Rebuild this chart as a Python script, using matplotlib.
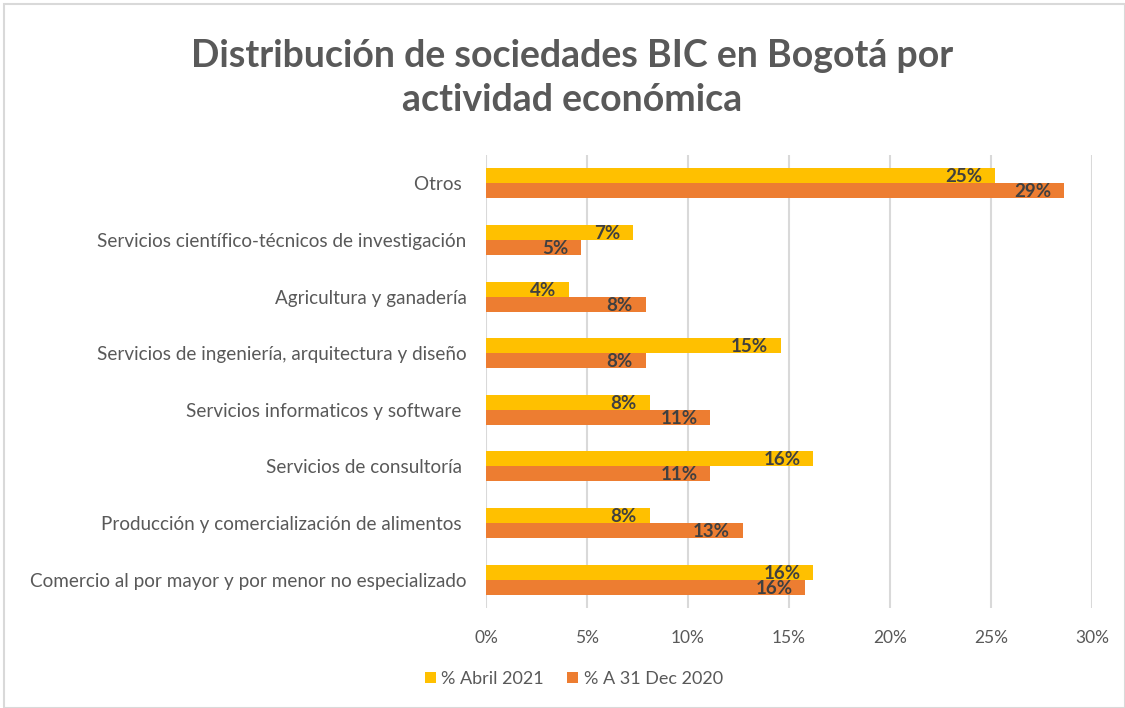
import matplotlib
matplotlib.use("Agg")
import matplotlib.pyplot as plt
from matplotlib.patches import Rectangle
import numpy as np

plt.rcParams['font.family'] = ['Lato', 'DejaVu Sans']

categories = [
    "Comercio al por mayor y por menor no especializado",
    "Producción y comercialización de alimentos ",
    "Servicios de consultoría ",
    "Servicios informaticos y software ",
    "Servicios de ingeniería, arquitectura y diseño",
    "Agricultura y ganadería",
    "Servicios científico-técnicos de investigación",
    "Otros ",
]
abril_2021 = [16.2, 8.1, 16.2, 8.1, 14.6, 4.1, 7.3, 25.2]
dec_2020 = [15.8, 12.7, 11.1, 11.1, 7.9, 7.9, 4.7, 28.6]
series_names = ["% Abril 2021", "% A 31 Dec 2020"]
xticks = [0, 5, 10, 15, 20, 25, 30]

c_yellow = "#FFC000"
c_orange = "#ED7D31"
text_gray = "#595959"
label_gray = "#404040"

W, H = 1125, 708
fig = plt.figure(figsize=(W / 100, H / 100), dpi=100)
fig.patch.set_facecolor("white")
fig.patches.append(Rectangle((4 / W, 0), 1 - 4 / W, 1 - 4 / H, transform=fig.transFigure,
                             fill=False, edgecolor="#d9d9d9", linewidth=1.5))

ax = fig.add_axes([486 / W, 1 - 608 / H, (1092 - 486) / W, (608 - 155) / H])

y = np.arange(len(categories))
bh = 0.265
b1 = ax.barh(y + bh / 2, abril_2021, height=bh, color=c_yellow, label=series_names[0], zorder=3)
b2 = ax.barh(y - bh / 2, dec_2020, height=bh, color=c_orange, label=series_names[1], zorder=3)

for bars, vals in ((b1, abril_2021), (b2, dec_2020)):
    for rect, v in zip(bars, vals):
        ax.annotate(f"{int(v + 0.5)}%", xy=(v, rect.get_y() + rect.get_height() / 2),
                    xytext=(-9.2, -4.7), textcoords="offset points", ha="right", va="baseline",
                    fontsize=13.5, fontweight="bold", color=label_gray, zorder=4)

ax.set_xlim(0, 30)
ax.set_ylim(-0.5, len(categories) - 0.5)
ax.set_xticks(xticks)
ax.set_xticklabels([f"{t}%" for t in xticks])
ax.set_yticks(y)
ax.set_yticklabels(categories)
ax.tick_params(axis="both", length=0, colors=text_gray)
ax.tick_params(axis="x", pad=16, labelsize=12.5)
ax.tick_params(axis="y", pad=14, labelsize=13.6)
ax.grid(axis="x", color="#d9d9d9", linewidth=1.5, zorder=0)
for s in ax.spines.values():
    s.set_visible(False)

fig.text(572 / W, 1 - 78 / H, "Distribución de sociedades BIC en Bogotá por\nactividad económica",
         ha="center", va="center", fontsize=27, fontweight="bold", color=text_gray, linespacing=1.35)

fig.legend(handles=[b1, b2], labels=series_names, loc="center", ncol=2,
           bbox_to_anchor=(574 / W, 1 - 679 / H), frameon=False, fontsize=13.0,
           labelcolor=text_gray, handlelength=0.6, handleheight=0.6, handletextpad=0.3,
           columnspacing=1.3)

fig.savefig("out.png", dpi=100, facecolor="white")
